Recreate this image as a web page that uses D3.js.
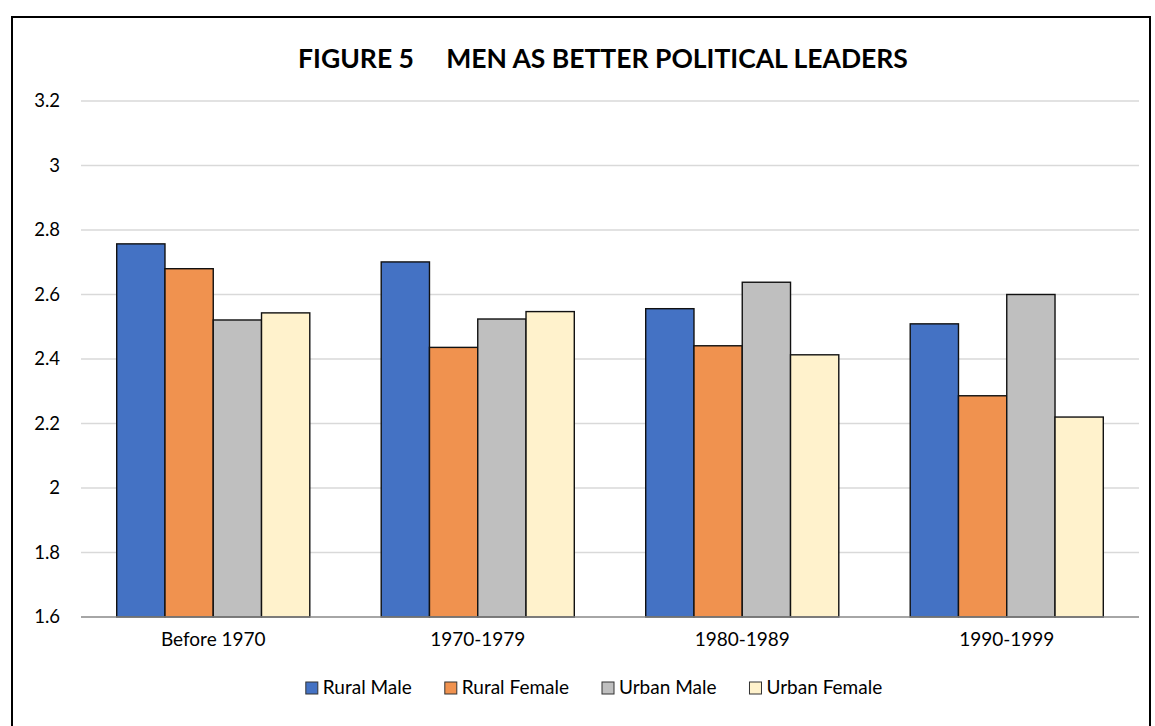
<!DOCTYPE html>
<html><head><meta charset="utf-8">
<script src="https://cdn.jsdelivr.net/npm/d3@7"></script>
<style>body{margin:0;background:#fff}svg{display:block}text{font-family:Lato,"Open Sans",sans-serif}</style>
</head><body><svg id="c" width="1155" height="726"></svg>
<script>
const categories = ["Before 1970", "1970-1979", "1980-1989", "1990-1999"];
const seriesNames = ["Rural Male", "Rural Female", "Urban Male", "Urban Female"];
const ruralMale = [2.757, 2.701, 2.556, 2.509];
const ruralFemale = [2.680, 2.436, 2.441, 2.286];
const urbanMale = [2.521, 2.524, 2.638, 2.600];
const urbanFemale = [2.543, 2.547, 2.413, 2.220];
const yTicks = [1.6, 1.8, 2, 2.2, 2.4, 2.6, 2.8, 3, 3.2];
const colors = ["#4472C4", "#F0924F", "#BFBFBF", "#FFF2CC"];
const seriesValues = [ruralMale, ruralFemale, urbanMale, urbanFemale];

const svg = d3.select("#c");
const m = {left: 81, right: 1139, top: 101, bottom: 617};
const FONT = "Lato,'Open Sans',sans-serif";

svg.append("rect").attr("x", 12).attr("y", 17).attr("width", 1138).attr("height", 720)
  .attr("fill", "none").attr("stroke", "#000").attr("stroke-width", 2);

const x0 = d3.scaleBand().domain(categories).range([m.left, m.right]).paddingInner(0.27).paddingOuter(0.135);
const x1 = d3.scaleBand().domain(seriesNames).range([0, x0.bandwidth()]);
const y = d3.scaleLinear().domain([1.6, 3.2]).range([m.bottom, m.top]);

// gridlines
svg.append("g").selectAll("line").data(yTicks.slice(1)).join("line")
  .attr("x1", m.left).attr("x2", m.right)
  .attr("y1", d => y(d)).attr("y2", d => y(d))
  .attr("stroke", "#d9d9d9").attr("stroke-width", 1.3);

// y labels
const yAxis = svg.append("g").attr("transform", `translate(${m.left},0)`)
  .call(d3.axisLeft(y).tickValues(yTicks).tickSize(0).tickPadding(21).tickFormat(d => String(d)));
yAxis.select(".domain").remove();
yAxis.selectAll("text").attr("font-size", 18.5).attr("fill", "#000").style("font-family", FONT);

// bars
const rows = [];
categories.forEach((c, i) => seriesNames.forEach((s, j) => rows.push({c, s, v: seriesValues[j][i], j})));
svg.append("g").selectAll("rect").data(rows).join("rect")
  .attr("x", d => x0(d.c) + x1(d.s))
  .attr("y", d => y(d.v))
  .attr("width", x1.bandwidth())
  .attr("height", d => y(1.6) - y(d.v))
  .attr("fill", d => colors[d.j])
  .attr("stroke", "#111").attr("stroke-width", 1.4);

// x axis
const xAxis = svg.append("g").attr("transform", `translate(0,${m.bottom})`)
  .call(d3.axisBottom(x0).tickSize(0).tickPadding(22));
xAxis.select(".domain").attr("stroke", "#898989").attr("stroke-width", 1.6)
  .attr("d", `M${m.left},0H${m.right}`);
xAxis.selectAll("text").attr("font-size", 19).attr("fill", "#000").attr("dy", "0.35em").style("font-family", FONT);

// title
svg.append("text").attr("x", 603).attr("y", 68).attr("text-anchor", "middle")
  .attr("font-size", 26.5).attr("font-weight", "bold").style("white-space", "pre")
  .text("FIGURE 5     MEN AS BETTER POLITICAL LEADERS");

// legend
const leg = svg.append("g");
const items = leg.selectAll("g").data(seriesNames).join("g");
items.append("rect").attr("width", 12).attr("height", 12).attr("y", -11)
  .attr("fill", (d, i) => colors[i]).attr("stroke", "#333").attr("stroke-width", 1);
items.append("text").attr("x", 17).attr("y", 1).attr("font-size", 19).text(d => d);
let xpos = 0;
items.each(function() {
  const g = d3.select(this);
  g.attr("transform", `translate(${xpos},0)`);
  xpos += 17 + g.select("text").node().getComputedTextLength() + 33;
});
const total = xpos - 33;
leg.attr("transform", `translate(${594 - total / 2},693)`);
</script></body></html>
